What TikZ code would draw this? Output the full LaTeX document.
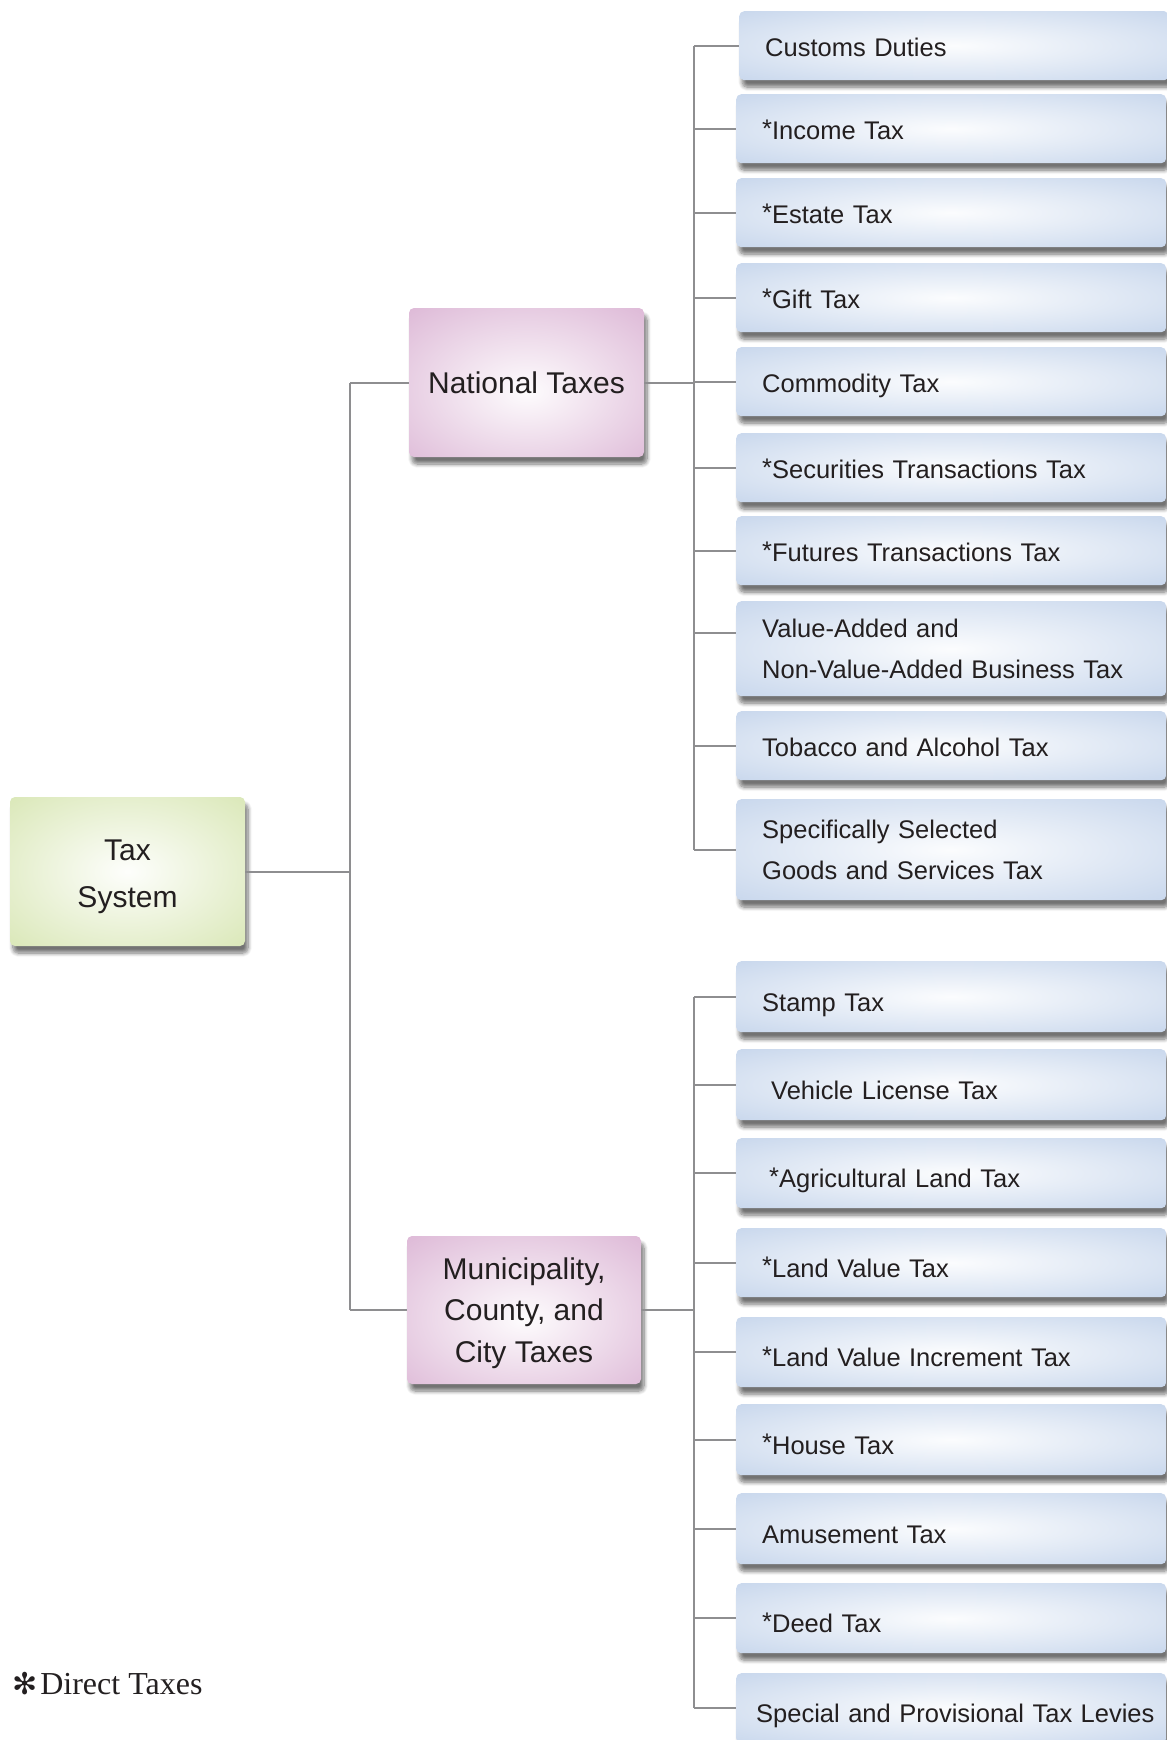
\documentclass[tikz,border=0pt]{standalone}
\usepackage{fontspec}
\setmainfont{Liberation Sans}
\newfontfamily\legendfont{Liberation Serif}
\newfontfamily\symfont{DejaVu Sans}
\usetikzlibrary{shadows.blur}
\definecolor{txt}{HTML}{231F20}
\definecolor{ln}{HTML}{8E8E90}
\definecolor{bedge}{HTML}{C4D4EB}
\definecolor{pedge}{HTML}{DBB4D4}
\definecolor{gedge}{HTML}{D6E5B0}
\colorlet{bin}{bedge!6!white}
\colorlet{pin}{pedge!4!white}
\colorlet{gin}{gedge!4!white}
\pgfdeclareradialshading{blueshade}{\pgfpoint{0bp}{0bp}}{color(0bp)=(bin); color(39bp)=(bedge); color(100bp)=(bedge)}
\pgfdeclareradialshading{pinkshade}{\pgfpoint{0bp}{-3bp}}{color(0bp)=(pin); color(40bp)=(pedge); color(100bp)=(pedge)}
\pgfdeclareradialshading{greenshade}{\pgfpoint{0bp}{0bp}}{color(0bp)=(gin); color(40bp)=(gedge); color(100bp)=(gedge)}
\newcommand\ds{\raisebox{2.5pt}{*}}
\begin{document}
\begin{tikzpicture}[x=1pt,y=-1pt,
  box/.style={rounded corners=5pt, shade, text=txt,
    blur shadow={shadow xshift=3pt, shadow yshift=-7pt, shadow blur radius=4pt, shadow blur steps=8, shadow opacity=55}},
  tb/.style={box, shading=blueshade, anchor=north west, minimum height=#1, text width=378pt,
    inner xsep=26pt, inner ysep=0pt, align=left, font=\fontsize{25.5}{41}\selectfont},
  one/.style={text height=24pt, text depth=2pt},
  onelow/.style={text height=31pt, text depth=2pt},
  bigbox/.style={box, minimum width=235pt, minimum height=149pt, inner sep=0pt, align=center},
  conn/.style={draw=ln, line width=2pt}]
\useasboundingbox (0,0) rectangle (1167,1740);

% level 1 and 2
\node[bigbox, shading=greenshade,
  label={[text=txt, align=center, yshift=-5pt, font=\fontsize{30}{47}\selectfont]center:Tax\\System}] (tax) at (127.5,871.5) {};
\node[bigbox, shading=pinkshade, font=\fontsize{30}{36}\selectfont] (nat) at (526.5,382.5) {National Taxes};
\node[bigbox, shading=pinkshade, minimum width=234pt, minimum height=148pt,
  label={[text=txt, align=center, yshift=-3pt, font=\fontsize{30}{41.5}\selectfont]center:Municipality,\\County, and\\City Taxes}] (mun) at (524,1310) {};

% national taxes
\node[tb=69pt, one] (cd) at (739,11) {Customs Duties};
\node[tb=69pt, one] (it) at (736,94) {\ds Income Tax};
\node[tb=69pt, one] (et) at (736,178) {\ds Estate Tax};
\node[tb=69pt, one] (gt) at (736,263) {\ds Gift Tax};
\node[tb=69pt, one] (ct) at (736,347) {Commodity Tax};
\node[tb=69pt, one] (st) at (736,433) {\ds Securities Transactions Tax};
\node[tb=69pt, one] (ft) at (736,516) {\ds Futures Transactions Tax};
\node[tb=95pt] (va) at (736,601) {Value-Added and\\Non-Value-Added Business Tax};
\node[tb=69pt, one] (ta) at (736,711) {Tobacco and Alcohol Tax};
\node[tb=101pt] (sg) at (736,799) {Specifically Selected\\Goods and Services Tax};

% local taxes
\node[tb=71pt, onelow] (sp) at (736,961) {Stamp Tax};
\node[tb=71pt, onelow] (vl) at (736,1049) {\hspace*{9pt}Vehicle License Tax};
\node[tb=70pt, onelow] (al) at (736,1138) {\hspace*{7pt}\ds Agricultural Land Tax};
\node[tb=69pt, onelow] (lv) at (736,1228) {\ds Land Value Tax};
\node[tb=70pt, onelow] (li) at (736,1317) {\ds Land Value Increment Tax};
\node[tb=71pt, onelow] (ht) at (736,1404) {\ds House Tax};
\node[tb=71pt, onelow] (am) at (736,1493) {Amusement Tax};
\node[tb=70pt, onelow] (dt) at (736,1583) {\ds Deed Tax};
\node[tb=70pt, onelow, text width=426pt, inner xsep=2pt] (sl) at (736,1673) {\hspace*{18pt}Special and Provisional Tax Levies};

% buses
\coordinate (mb) at (350,0);
\coordinate (nb) at (694,0);

\draw[conn] (nat.west -| mb) -- (mun.west -| mb);
\draw[conn] (tax.east) -- (tax.east -| mb);
\draw[conn] (nat.west -| mb) -- (nat.west);
\draw[conn] (mun.west -| mb) -- (mun.west);

\draw[conn] (cd.west -| nb) -- (sg.west -| nb);
\draw[conn] (nat.east) -- (nat.east -| nb);
\foreach \n in {cd,it,et,gt,ct,st,ft,ta,sg}
  \draw[conn] (\n.west -| nb) -- (\n.west);
\draw[conn] ([yshift=16pt]va.west -| nb) -- ([yshift=16pt]va.west);

\draw[conn] (sp.west -| nb) -- (sl.west -| nb);
\draw[conn] (mun.east) -- (mun.east -| nb);
\foreach \n in {sp,vl,al,lv,li,ht,am,dt,sl}
  \draw[conn] (\n.west -| nb) -- (\n.west);

% legend
\node[anchor=base west, inner sep=0pt, text=txt, font=\fontsize{32}{32}\selectfont\legendfont] (legend) at (12,1694) {{\symfont\fontsize{30}{30}\selectfont ✻}\kern3pt Direct Taxes};
\end{tikzpicture}
\end{document}
